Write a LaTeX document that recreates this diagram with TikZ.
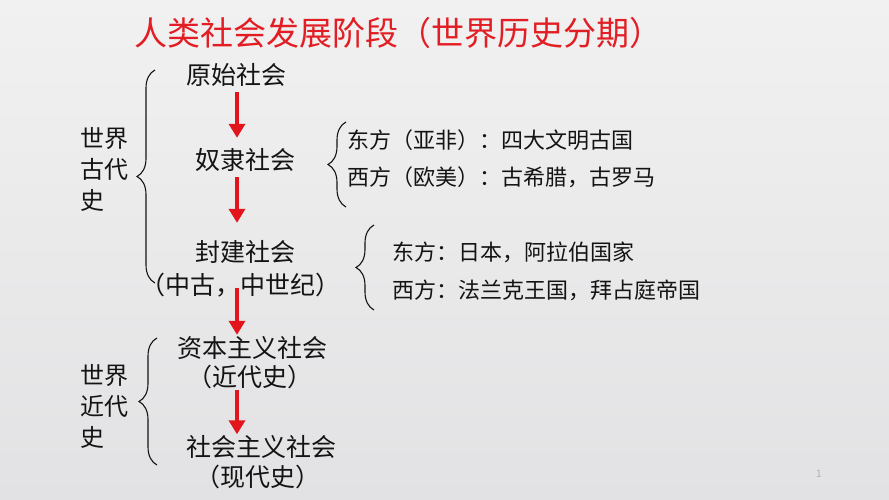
\documentclass[tikz,border=0pt]{standalone}
\usepackage{fontspec}
\setmainfont{Noto Sans CJK SC}
\usetikzlibrary{decorations.pathreplacing,arrows.meta}
\definecolor{txt}{RGB}{20,20,20}
\definecolor{titlered}{RGB}{226,30,36}
\definecolor{arrred}{RGB}{226,20,28}
\definecolor{bgtop}{RGB}{241,241,241}
\definecolor{bgbot}{RGB}{226,226,228}
\begin{document}
\begin{tikzpicture}[x=1pt,y=-1pt,
  every node/.style={inner sep=0pt,text=txt},
  stage/.style={font=\fontsize{25}{30}\selectfont,text height=22pt,text depth=3pt},
  side/.style={font=\fontsize{22}{26}\selectfont,anchor=west,text height=19.4pt,text depth=2.6pt},
  era/.style={font=\fontsize{24}{31}\selectfont,align=left,anchor=west},
  brc/.style={draw=txt,line width=1.1pt,decorate,decoration={brace,amplitude=#1}},
  arr/.style={draw=arrred,line width=4.5pt,-{Triangle[width=16pt,length=14pt]}}
]
\useasboundingbox (0,0) rectangle (889,500);
\shade[top color=bgtop,bottom color=bgbot] (0,0) rectangle (889,500);

\node[font=\fontsize{33}{38}\selectfont,text=titlered,text height=29pt,text depth=4pt] (title) at (398,33) {人类社会发展阶段（世界历史分期）};

\coordinate (ax) at (237,0);

\node[stage] (s1) at (236,75) {原始社会};
\node[stage] (s2) at (245,160) {奴隶社会};
\node[stage] (s3) at (245,252) {封建社会};
\node[stage] (s3b) at (240,285) {（中古，中世纪）};
\node[stage] (s4) at (252,348) {资本主义社会};
\node[stage] (s4b) at (250,377) {（近代史）};
\node[stage] (s5) at (261,447) {社会主义社会};
\node[stage] (s5b) at (258,477) {（现代史）};

\draw[arr,shorten <=4.5pt,shorten >=9.5pt] (s1.south -| ax) -- (s2.north -| ax);
\draw[arr,shorten <=4.5pt,shorten >=16.5pt] (s2.south -| ax) -- (s3.north -| ax);
\draw[arr,shorten <=3pt,shorten >=0.5pt] (s3b.center -| ax) -- (s4.north -| ax);
\draw[arr,shorten <=0.5pt,shorten >=0pt] (s4b.south -| ax) -- (s5.north -| ax);

\node[era] (e1) at (80,169) {世界\\古代\\史};
\node[era] (e2) at (80,406) {世界\\近代\\史};

\draw[brc=18pt] (155,283) -- (155,70);
\draw[brc=18pt] (157,465) -- (157,338);
\draw[brc=18pt] (346,207) -- (346,122);
\draw[brc=18pt] (374,310) -- (374,225);

\node[side] (w1) at (347,140) {东方（亚非）：四大文明古国};
\node[side] (w2) at (347,177) {西方（欧美）：古希腊，古罗马};
\node[side] (w3) at (392,252) {东方：日本，阿拉伯国家};
\node[side] (w4) at (392,290) {西方：法兰克王国，拜占庭帝国};

\node[font=\fontsize{10}{12}\selectfont,text=black!30] (pg) at (819,474) {1};
\end{tikzpicture}
\end{document}
